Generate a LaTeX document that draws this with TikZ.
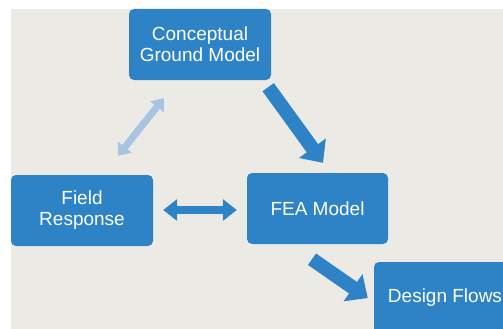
\documentclass[tikz,border=0pt]{standalone}
\usepackage{fontspec}
\setmainfont{Liberation Sans}
\usetikzlibrary{arrows.meta, calc}
\definecolor{boxblue}{RGB}{45,131,198}
\definecolor{paleblue}{RGB}{168,196,226}
\definecolor{slide}{RGB}{236,234,229}

\tikzset{
	box/.style={fill=boxblue, rounded corners=5pt, minimum width=142pt, minimum height=71pt,
		inner sep=0pt, align=center, text=white, font=\fontsize{19}{21}\selectfont},
	bigarrow/.style={draw=boxblue, line width=14pt, -{Triangle[width=32pt,length=18pt]}},
	linkarrow/.style={draw=boxblue, line width=8.5pt,
		{Triangle[width=21pt,length=14pt]}-{Triangle[width=21pt,length=14pt]}},
	palearrow/.style={draw=paleblue, line width=7pt,
		{Triangle[width=17pt,length=11pt]}-{Triangle[width=17pt,length=11pt]}}
}

\begin{document}
\begin{tikzpicture}[x=1pt, y=-1pt]
	\useasboundingbox (0,0) rectangle (503,329);
	\fill [slide] (11,9) rectangle (503,329);
	% the four boxes
	\node [box] (cgm) at (200,44.5) {Conceptual\\Ground Model};
	\node [box] (field) at (82,210.5) {Field\\Response};
	\node [box, minimum width=141pt] (fea) at (317.5,208.5) {FEA Model};
	\node [box] (design) at (445,297.5) {Design Flows};
	% arrows between them
	\draw [bigarrow] ($(cgm.south east)+(-3,7)$) -- ($(fea.north)+(5.5,-10)$);
	\draw [bigarrow] ($(fea.south)+(-5.5,15)$) -- ($(design.west)+(-6,0.5)$);
	\draw [linkarrow] ($(field.east)+(10,-0.5)$) -- ($(fea.west)+(-10,1.5)$);
	\draw [palearrow] ($(field.north)+(36,-19)$) -- ($(cgm.south west)+(35,18)$);
\end{tikzpicture}
\end{document}
